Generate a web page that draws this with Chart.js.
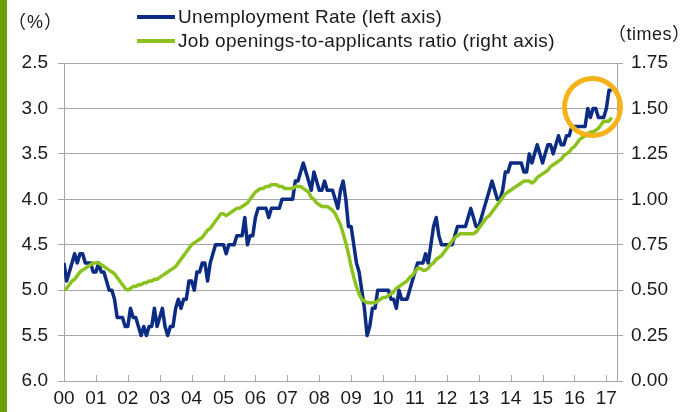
<!DOCTYPE html>
<html><head><meta charset="utf-8">
<script src="https://cdn.jsdelivr.net/npm/chart.js@4/dist/chart.umd.min.js"></script>
<style>
html,body{margin:0;padding:0;background:#fff;}
#wrap{position:relative;width:684px;height:412px;overflow:hidden;font-family:"Liberation Sans",Arial,sans-serif;color:#1a1a1a;}
#bar{position:absolute;left:0;top:0;width:7px;height:412px;background:#6a9f00;}
canvas{position:absolute;left:0;top:0;}
.unit{position:absolute;font-size:18px;font-family:"Liberation Sans","Noto Sans CJK JP",sans-serif;}
.leg{position:absolute;left:137px;font-size:19px;letter-spacing:0.3px;white-space:nowrap;line-height:22px;}
.leg .l{display:inline-block;width:38px;height:4px;vertical-align:middle;margin-right:3px;position:relative;top:-1px;}
#circle{position:absolute;left:562px;top:76px;width:51px;height:52px;border:5px solid #f5b21a;border-radius:50%;}
</style></head>
<body>
<div id="wrap">
<canvas id="c" width="684" height="412"></canvas>
<div id="bar"></div>
<div class="unit" style="left:8px;top:7px;letter-spacing:1px;">（%）</div>
<div class="unit" style="left:608px;top:19px;letter-spacing:0.5px;">（times）</div>
<div class="leg" style="top:6px;"><span class="l" style="background:#0b2c82"></span>Unemployment Rate (left axis)</div>
<div class="leg" style="top:30px;"><span class="l" style="background:#8cc21f"></span>Job openings-to-applicants ratio (right axis)</div>
<div id="circle"></div>
</div>
<script>
const yearLabels = ['00','01','02','03','04','05','06','07','08','09','10','11','12','13','14','15','16','17'];
const leftTicks = [2.5, 3.0, 3.5, 4.0, 4.5, 5.0, 5.5, 6.0];
const rightTicks = [0, 0.25, 0.5, 0.75, 1.0, 1.25, 1.5, 1.75];

// Monthly, Jan 2000 - Mar 2017 (%)
const unemployment = [
  4.7, 4.9, 4.8, 4.7, 4.6, 4.7, 4.6, 4.6, 4.7, 4.7, 4.7, 4.8,
  4.8, 4.7, 4.8, 4.8, 4.9, 5.0, 5.0, 5.1, 5.3, 5.3, 5.3, 5.4,
  5.4, 5.2, 5.3, 5.3, 5.4, 5.5, 5.4, 5.5, 5.4, 5.4, 5.2, 5.4,
  5.3, 5.2, 5.4, 5.5, 5.4, 5.4, 5.2, 5.1, 5.2, 5.1, 5.1, 4.9,
  4.9, 5.0, 4.8, 4.8, 4.7, 4.7, 4.9, 4.7, 4.6, 4.5, 4.5, 4.5,
  4.5, 4.6, 4.5, 4.5, 4.5, 4.4, 4.4, 4.4, 4.2, 4.5, 4.4, 4.4,
  4.2, 4.1, 4.1, 4.1, 4.1, 4.2, 4.1, 4.1, 4.1, 4.1, 4.0, 4.0,
  4.0, 4.0, 4.0, 3.8, 3.8, 3.7, 3.6, 3.7, 3.8, 3.9, 3.7, 3.8,
  3.9, 3.9, 3.8, 3.9, 3.9, 3.9, 4.0, 4.1, 3.9, 3.8, 4.0, 4.3,
  4.3, 4.5, 4.7, 4.8, 5.0, 5.2, 5.5, 5.4, 5.2, 5.2, 5.0, 5.0,
  5.0, 5.0, 5.0, 5.1, 5.1, 5.2, 5.0, 5.1, 5.1, 5.1, 5.0, 4.9,
  4.8, 4.7, 4.7, 4.7, 4.6, 4.7, 4.5, 4.3, 4.2, 4.4, 4.5, 4.5,
  4.5, 4.5, 4.5, 4.4, 4.3, 4.3, 4.3, 4.3, 4.2, 4.1, 4.2, 4.3,
  4.3, 4.2, 4.1, 4.0, 3.9, 3.8, 3.9, 4.0, 4.0, 3.9, 3.7, 3.7,
  3.6, 3.6, 3.6, 3.6, 3.6, 3.7, 3.7, 3.5, 3.6, 3.5, 3.4, 3.5,
  3.6, 3.5, 3.4, 3.4, 3.5, 3.4, 3.3, 3.4, 3.4, 3.3, 3.3, 3.2,
  3.2, 3.2, 3.2, 3.2, 3.2, 3.0, 3.1, 3.0, 3.0, 3.1, 3.1, 3.1,
  3.0, 2.8, 2.8
];
// Monthly, Jan 2000 - Mar 2017 (times)
const jobRatio = [
  0.50, 0.51, 0.53, 0.55, 0.56, 0.58, 0.60, 0.61, 0.62, 0.63, 0.64, 0.65,
  0.65, 0.65, 0.64, 0.63, 0.62, 0.61, 0.60, 0.59, 0.57, 0.55, 0.53, 0.51,
  0.50, 0.51, 0.52, 0.52, 0.53, 0.53, 0.54, 0.54, 0.55, 0.55, 0.56, 0.56,
  0.57, 0.58, 0.59, 0.60, 0.61, 0.62, 0.63, 0.65, 0.67, 0.69, 0.71, 0.73,
  0.75, 0.76, 0.77, 0.78, 0.79, 0.81, 0.83, 0.84, 0.86, 0.88, 0.90, 0.92,
  0.92, 0.91, 0.92, 0.93, 0.94, 0.95, 0.95, 0.96, 0.97, 0.98, 1.00, 1.02,
  1.04, 1.05, 1.06, 1.06, 1.07, 1.07, 1.08, 1.08, 1.08, 1.07, 1.07, 1.06,
  1.06, 1.06, 1.06, 1.07, 1.07, 1.07, 1.06, 1.05, 1.04, 1.01, 1.00, 0.98,
  0.97, 0.96, 0.96, 0.96, 0.95, 0.94, 0.92, 0.89, 0.86, 0.81, 0.76, 0.70,
  0.63, 0.57, 0.52, 0.48, 0.45, 0.44, 0.43, 0.43, 0.43, 0.43, 0.44, 0.45,
  0.46, 0.46, 0.47, 0.48, 0.49, 0.51, 0.52, 0.53, 0.54, 0.55, 0.57, 0.58,
  0.60, 0.62, 0.62, 0.61, 0.61, 0.62, 0.64, 0.65, 0.67, 0.68, 0.69, 0.71,
  0.73, 0.75, 0.77, 0.79, 0.80, 0.81, 0.81, 0.81, 0.81, 0.81, 0.81, 0.82,
  0.84, 0.86, 0.88, 0.90, 0.91, 0.93, 0.95, 0.97, 0.99, 1.01, 1.03, 1.04,
  1.05, 1.06, 1.07, 1.08, 1.09, 1.10, 1.10, 1.10, 1.09, 1.10, 1.12, 1.13,
  1.14, 1.15, 1.16, 1.18, 1.19, 1.20, 1.21, 1.22, 1.24, 1.25, 1.26, 1.28,
  1.29, 1.31, 1.33, 1.34, 1.35, 1.36, 1.37, 1.37, 1.38, 1.39, 1.41, 1.43,
  1.43, 1.43, 1.45
];

const AXIS_COLOR = '#a6a6a6';
const TEXT_COLOR = '#1a1a1a';
const FONT = {family: '"Liberation Sans", Arial, sans-serif', size: 19};

const innerTicks = {
  id: 'innerTicks',
  afterDatasetsDraw(chart) {
    const xs = chart.scales.x, ctx = chart.ctx, b = chart.chartArea.bottom;
    ctx.save();
    ctx.strokeStyle = AXIS_COLOR; ctx.lineWidth = 1;
    xs.ticks.forEach(t => {
      const px = Math.round(xs.getPixelForValue(t.value)) + 0.5;
      ctx.beginPath(); ctx.moveTo(px, b); ctx.lineTo(px, b - 6); ctx.stroke();
    });
    ctx.restore();
  }
};

new Chart(document.getElementById('c'), {
  type: 'line',
  data: {
    datasets: [
      {
        label: 'Job openings-to-applicants ratio (right axis)',
        data: jobRatio.map((v, i) => ({x: i, y: v})),
        yAxisID: 'y1', borderColor: '#8cc21f', borderWidth: 3.5,
        pointRadius: 0, tension: 0, order: 0, borderJoinStyle: 'round'
      },
      {
        label: 'Unemployment Rate (left axis)',
        data: unemployment.map((v, i) => ({x: i, y: v})),
        yAxisID: 'y', borderColor: '#0b2c82', borderWidth: 3.5,
        pointRadius: 0, tension: 0, order: 1, borderJoinStyle: 'round'
      }
    ]
  },
  options: {
    responsive: false, animation: false, devicePixelRatio: 1,
    layout: {padding: {top: 63, left: 0, right: 0, bottom: 0}},
    plugins: {legend: {display: false}, tooltip: {enabled: false}},
    scales: {
      x: {
        type: 'linear', min: 0, max: 208,
        afterBuildTicks: s => { s.ticks = yearLabels.map((_, k) => ({value: k * 12})); },
        afterFit: s => { s.height = 31; },
        ticks: {
          callback: v => yearLabels[Math.round(v / 12)],
          font: FONT, color: TEXT_COLOR, padding: 6, maxRotation: 0, autoSkip: false
        },
        grid: {display: true, drawOnChartArea: false, drawTicks: false, color: AXIS_COLOR},
        border: {display: true, color: AXIS_COLOR}
      },
      y: {
        position: 'left', reverse: true, min: 2.5, max: 6.0,
        afterBuildTicks: s => { s.ticks = leftTicks.map(v => ({value: v})); },
        afterFit: s => { s.width = 64; },
        ticks: {callback: v => v.toFixed(1), font: FONT, color: TEXT_COLOR, padding: 10},
        grid: {color: AXIS_COLOR, lineWidth: 1, tickLength: 6},
        border: {display: true, color: AXIS_COLOR}
      },
      y1: {
        position: 'right', min: 0, max: 1.75,
        afterBuildTicks: s => { s.ticks = rightTicks.map(v => ({value: v})); },
        afterFit: s => { s.width = 67; },
        ticks: {callback: v => v.toFixed(2), font: FONT, color: TEXT_COLOR, padding: 8},
        grid: {drawOnChartArea: false, color: AXIS_COLOR, tickLength: 6},
        border: {display: true, color: AXIS_COLOR}
      }
    }
  },
  plugins: [innerTicks]
});
</script>
</body></html>
